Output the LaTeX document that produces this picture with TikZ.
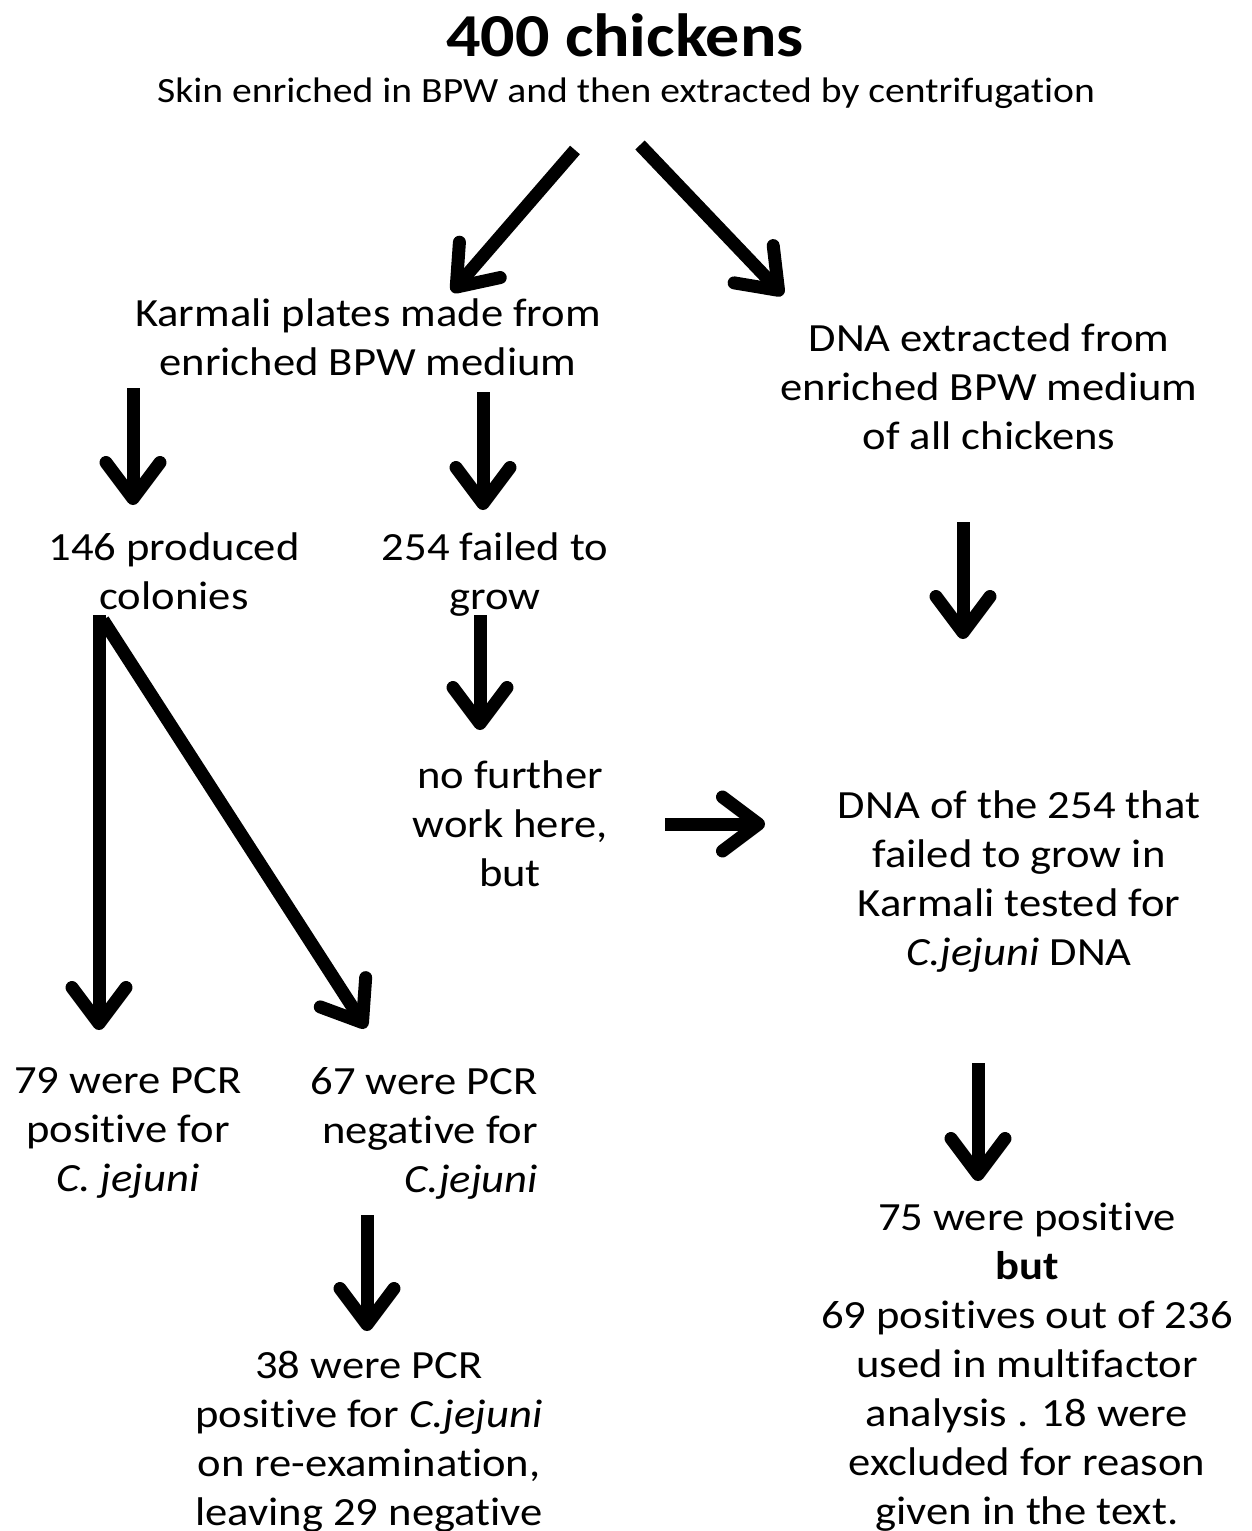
\documentclass[tikz,border=0pt]{standalone}
\usepackage{fontspec}
\setmainfont[FakeStretch=1.115,Ligatures=NoCommon]{Carlito}
\usetikzlibrary{arrows.meta}
\tikzset{
  txt/.style={inner sep=0pt, align=center, font=\fontsize{40}{49}\selectfont},
  arr/.style={line width=13pt, -{Straight Barb[length=36pt,width=54pt,round]}},
}
\begin{document}
\begin{tikzpicture}[x=1pt,y=-1pt]
\useasboundingbox (0,0) rectangle (1251,1531);
\node[inner sep=0pt, font=\fontsize{61}{70}\selectfont\bfseries] (title) at (625,35) {400 chickens};
\node[inner sep=0pt, font=\fontsize{35.5}{40}\selectfont] (sub) at (626,93) {Skin enriched in BPW and then extracted by centrifugation};
\node[txt] (karmali) at (368,337) {Karmali plates made from\\enriched BPW medium};
\node[txt] (dnaext) at (989,387) {DNA extracted from\\enriched BPW medium\\of all chickens};
\node[txt] (p146) at (174,571) {146 produced\\colonies};
\node[txt] (f254) at (495,575) {254 failed to\\grow};
\node[txt] (nofurther) at (510,824) {no further\\work here,\\but};
\node[txt] (dna254) at (1019,882) {DNA of the 254 that\\failed to grow in\\Karmali tested for\\\textit{C.jejuni} DNA};
\node[txt] (pos79) at (128,1133) {79 were PCR\\positive for\\\textit{C. jejuni}};
\node[txt, align=right, anchor=east] (neg67) at (538,1133) {67 were PCR\\negative for\\\textit{C.jejuni}};
\node[txt] (pcr38) at (369,1442) {38 were PCR\\positive for \textit{C.jejuni}\\on re-examination,\\leaving 29 negative};
\node[txt] (pos75) at (1027,1367) {75 were positive\\\textbf{but}\\69 positives out of 236\\used in multifactor\\analysis . 18 were\\excluded for reason\\given in the text.};
% arrow end points
\coordinate (a1s) at (575,150); \coordinate (a1e) at (452,292);
\coordinate (a2s) at (640,145); \coordinate (a2e) at (783,295);
\coordinate (a3s) at (133,388); \coordinate (a3e) at (133,505);
\coordinate (a4s) at (483,392); \coordinate (a4e) at (483,510);
\coordinate (a5s) at (963,522); \coordinate (a5e) at (963,639);
\coordinate (a6s) at (480,615); \coordinate (a6e) at (480,730);
\coordinate (a7s) at (99,615);  \coordinate (a7e) at (99,1030);
\coordinate (a8s) at (103,620); \coordinate (a8e) at (366,1028);
\coordinate (a9s) at (665,824); \coordinate (a9e) at (765,824);
\coordinate (a10s) at (978,1063); \coordinate (a10e) at (978,1181);
\coordinate (a11s) at (367,1215); \coordinate (a11e) at (367,1331);
\draw[arr] (a1s) -- (a1e);
\draw[arr] (a2s) -- (a2e);
\draw[arr] (a3s) -- (a3e);
\draw[arr] (a4s) -- (a4e);
\draw[arr] (a5s) -- (a5e);
\draw[arr] (a6s) -- (a6e);
\draw[arr] (a7s) -- (a7e);
\draw[arr] (a8s) -- (a8e);
\draw[arr] (a9s) -- (a9e);
\draw[arr] (a10s) -- (a10e);
\draw[arr] (a11s) -- (a11e);
\end{tikzpicture}
\end{document}
